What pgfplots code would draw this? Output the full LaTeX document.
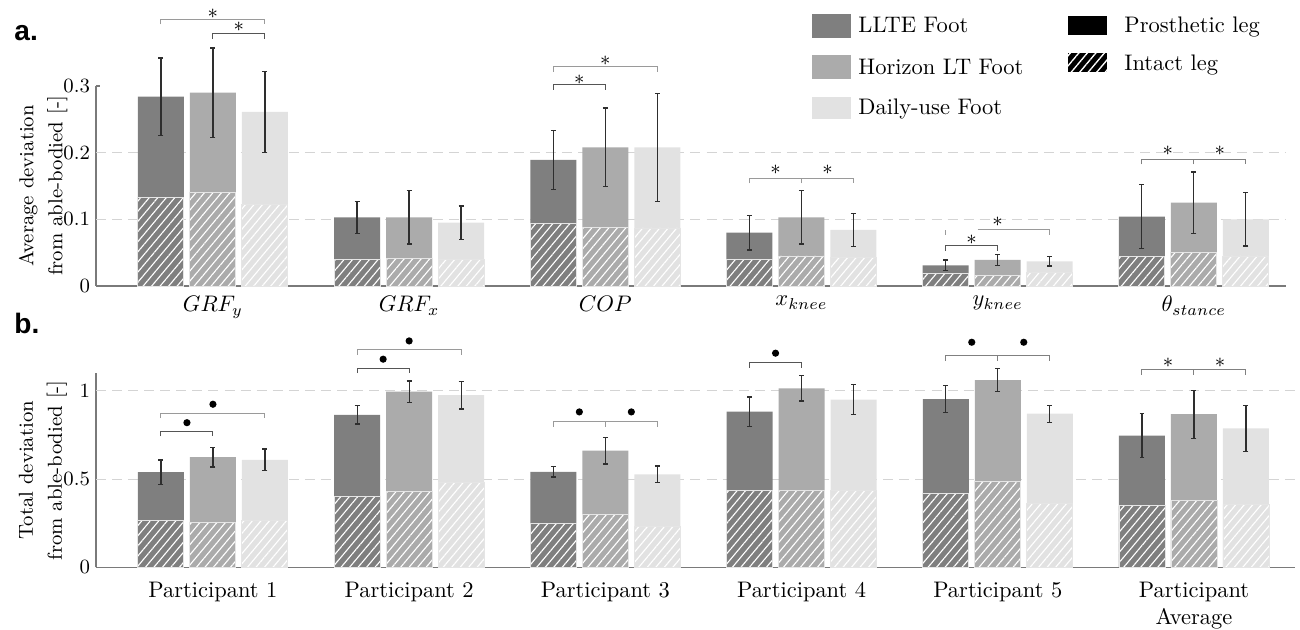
\documentclass[border=0pt]{standalone}
\usepackage{fontspec}
\newfontfamily\panelfont{Liberation Sans}
\usepackage{pgfplots}
\pgfplotsset{compat=1.18}
\usepackage{pgfplotstable}
\usetikzlibrary{patterns.meta}

\definecolor{cA}{HTML}{7F7F7F}
\definecolor{cB}{HTML}{ABABAB}
\definecolor{cC}{HTML}{E2E2E2}
\definecolor{axisc}{HTML}{7A7A7A}
\definecolor{gridc}{HTML}{D4D4D4}
\definecolor{errc}{HTML}{2E2E2E}
\definecolor{brkL}{HTML}{9A9A9A}
\definecolor{brkD}{HTML}{555555}
\definecolor{brkM}{HTML}{808080}

% x, total, intact, error for LLTE (a), Horizon LT (b), Daily-use (c)
\pgfplotstableread{
x a     ai    ae    b     bi    be    c     ci    ce
0 0.284 0.133 0.058 0.290 0.140 0.067 0.261 0.122 0.061
1 0.103 0.040 0.024 0.103 0.041 0.040 0.095 0.040 0.025
2 0.189 0.094 0.044 0.208 0.088 0.059 0.208 0.087 0.081
3 0.080 0.040 0.026 0.103 0.045 0.040 0.084 0.043 0.025
4 0.031 0.019 0.008 0.039 0.016 0.008 0.037 0.020 0.007
5 0.104 0.044 0.048 0.125 0.050 0.046 0.100 0.045 0.040
}\tabA

\pgfplotstableread{
x a     ai    ae    b     bi    be    c     ci    ce
0 0.539 0.264 0.069 0.624 0.255 0.055 0.609 0.266 0.062
1 0.864 0.404 0.052 0.996 0.429 0.060 0.976 0.482 0.078
2 0.541 0.246 0.029 0.661 0.302 0.075 0.527 0.232 0.047
3 0.883 0.434 0.083 1.015 0.434 0.072 0.951 0.434 0.085
4 0.953 0.420 0.077 1.061 0.485 0.065 0.871 0.363 0.048
5 0.746 0.348 0.125 0.868 0.380 0.136 0.788 0.357 0.131
}\tabB

\pgfplotsset{
  bA/.style={ybar, bar width=20.47pt, bar shift=-23.14pt},
  bB/.style={ybar, bar width=20.47pt, bar shift=0pt},
  bC/.style={ybar, bar width=20.47pt, bar shift=23.14pt},
  solid bar/.style={draw=none},
  hatch/.style={draw=white!80!gray, line width=0.4pt,
    postaction={pattern={Lines[angle=50,distance=2.9pt,line width=0.5pt]}, pattern color=white}},
  errs/.style={draw=none, mark=none, forget plot,
    error bars/.cd, y dir=both, y explicit,
    error bar style={draw=errc, line width=0.55pt},
    error mark options={rotate=90, draw=errc, mark size=1.1pt, line width=0.55pt}},
  panel/.style={
    scale only axis, anchor=south west, clip=false,
    axis x line*=bottom, axis y line*=left,
    axis line style={draw=axisc, line width=0.6pt},
    x axis line style={-}, y axis line style={-},
    xtick={0,...,5}, xtick style={draw=none},
    ytick style={draw=axisc, line width=0.5pt}, major tick length=1.8pt,
    yticklabel style={font=\small, inner sep=0pt, anchor=east, xshift=-2.5pt},
    xticklabel style={inner sep=0pt, anchor=north, align=center},
    extra y tick labels={},
    extra y tick style={grid=major, major tick length=0pt,
      major grid style={draw=gridc, line width=0.5pt, dash pattern=on 4.45pt off 2.7pt}},
    ylabel style={align=center, anchor=center, font=\fontsize{9}{12.9}\selectfont},
  },
}

\newcommand\brk[5]{\draw[#1, line width=0.45pt] (axis cs:#2,#5) -- (axis cs:#2,#4) -- (axis cs:#3,#4) -- (axis cs:#3,#5);}
\newcommand\st[2]{\node[font=\small, inner sep=0pt] at (axis cs:#1,#2) {$\ast$};}

\begin{document}
\begin{tikzpicture}
\useasboundingbox (0,0) rectangle (578.5pt,279.905pt);

% ---------- a. ----------
\begin{axis}[panel,
  at={(42.72pt,152.64pt)}, width=529.55pt, height=89pt,
  xmin=-0.596, xmax=5.47, ymin=0, ymax=0.3,
  ytick={0,0.1,0.2,0.3}, extra y ticks={0.1,0.2},
  xticklabels={$GRF_y$,$GRF_x$,$COP$,$x_{knee}$,$y_{knee}$,$\theta_{stance}$},
  xticklabel style={yshift=-4.4pt},
  ylabel={Average deviation\\from able-bodied [-]},
  ylabel style={at={(axis description cs:-0.0445,0.5)}},
]
\addplot[bA, fill=cA, solid bar] table[x=x,y=a]{\tabA};
\addplot[bA, fill=cA, hatch] table[x=x,y=ai]{\tabA};
\addplot[bB, fill=cB, solid bar] table[x=x,y=b]{\tabA};
\addplot[bB, fill=cB, hatch] table[x=x,y=bi]{\tabA};
\addplot[bC, fill=cC, solid bar] table[x=x,y=c]{\tabA};
\addplot[bC, fill=cC, hatch] table[x=x,y=ci]{\tabA};
\addplot[errs] table[x expr=\thisrow{x}-0.265,y=a,y error=ae]{\tabA};
\addplot[errs] table[x=x,y=b,y error=be]{\tabA};
\addplot[errs] table[x expr=\thisrow{x}+0.265,y=c,y error=ce]{\tabA};

\brk{brkL}{-0.265}{0.265}{0.400}{0.3925}
\brk{brkD}{0}{0.265}{0.3785}{0.371}
\st{0}{0.4085}
\st{0.1325}{0.3895}
\brk{brkL}{1.735}{2.265}{0.329}{0.3215}
\brk{brkD}{1.735}{2}{0.3015}{0.294}
\st{2}{0.3375}
\st{1.8675}{0.310}
\brk{brkL}{2.735}{3.265}{0.1615}{0.154}
\draw[brkL, line width=0.45pt] (axis cs:3,0.154) -- (axis cs:3,0.1615);
\st{2.8675}{0.175}
\st{3.1325}{0.175}
\brk{brkD}{3.735}{4}{0.060}{0.0525}
\draw[brkL, line width=0.45pt] (axis cs:3.735,0.0765) -- (axis cs:3.735,0.084);
\draw[brkL, line width=0.45pt] (axis cs:3.898,0.084) -- (axis cs:4.265,0.084) -- (axis cs:4.265,0.0765);
\st{3.8675}{0.070}
\st{4}{0.096}
\brk{brkM}{4.735}{5.265}{0.190}{0.1825}
\draw[brkM, line width=0.45pt] (axis cs:5,0.1825) -- (axis cs:5,0.190);
\st{4.8675}{0.2035}
\st{5.1325}{0.2035}
\end{axis}

% ---------- b. ----------
\begin{axis}[panel,
  at={(42.72pt,27.46pt)}, width=533.56pt, height=86.33pt,
  xmin=-0.596, xmax=5.515, ymin=0, ymax=1.1,
  ytick={0,0.5,1}, extra y ticks={0.5,1},
  xticklabels={Participant 1,Participant 2,Participant 3,Participant 4,Participant 5,Participant\\Average},
  xticklabel style={yshift=-6.4pt},
  ylabel={Total deviation\\from able-bodied [-]},
  ylabel style={at={(axis description cs:-0.0442,0.5)}},
]
\addplot[bA, fill=cA, solid bar] table[x=x,y=a]{\tabB};
\addplot[bA, fill=cA, hatch] table[x=x,y=ai]{\tabB};
\addplot[bB, fill=cB, solid bar] table[x=x,y=b]{\tabB};
\addplot[bB, fill=cB, hatch] table[x=x,y=bi]{\tabB};
\addplot[bC, fill=cC, solid bar] table[x=x,y=c]{\tabB};
\addplot[bC, fill=cC, hatch] table[x=x,y=ci]{\tabB};
\addplot[errs] table[x expr=\thisrow{x}-0.265,y=a,y error=ae]{\tabB};
\addplot[errs] table[x=x,y=b,y error=be]{\tabB};
\addplot[errs] table[x expr=\thisrow{x}+0.265,y=c,y error=ce]{\tabB};

\tikzset{dot/.style={circle, fill=black, inner sep=0pt, minimum size=3.2pt}}
\brk{brkL}{-0.265}{0.265}{0.8735}{0.8455}
\brk{brkD}{-0.265}{0}{0.771}{0.743}
\node[dot] at (axis cs:0,0.9245) {};
\node[dot] at (axis cs:-0.1325,0.820) {};
\brk{brkL}{0.735}{1.265}{1.2325}{1.2045}
\brk{brkD}{0.735}{1}{1.129}{1.101}
\node[dot] at (axis cs:1,1.2835) {};
\node[dot] at (axis cs:0.8675,1.180) {};
\brk{brkL}{1.735}{2.265}{0.824}{0.796}
\draw[brkL, line width=0.45pt] (axis cs:2,0.796) -- (axis cs:2,0.824);
\node[dot] at (axis cs:1.8675,0.881) {};
\node[dot] at (axis cs:2.1325,0.881) {};
\brk{brkD}{2.735}{3}{1.1605}{1.1325}
\node[dot] at (axis cs:2.8675,1.214) {};
\brk{brkM}{3.735}{4.265}{1.1985}{1.1705}
\draw[brkM, line width=0.45pt] (axis cs:4,1.1705) -- (axis cs:4,1.1985);
\node[dot] at (axis cs:3.8675,1.276) {};
\node[dot] at (axis cs:4.1325,1.276) {};
\brk{brkM}{4.735}{5.265}{1.119}{1.091}
\draw[brkM, line width=0.45pt] (axis cs:5,1.091) -- (axis cs:5,1.119);
\st{4.8675}{1.159}
\st{5.1325}{1.159}
\end{axis}

% ---------- legend and panel letters (pixel grid, y down) ----------
\begin{scope}[x=0.445pt, y=-0.445pt, shift={(0pt,279.905pt)}]
\fill[cA] (812,14) rectangle (851,38);
\fill[cB] (812,55) rectangle (851,79);
\fill[cC] (812,97) rectangle (851,119);
\node[anchor=base west, inner sep=0pt] at (858,33) {LLTE Foot};
\node[anchor=base west, inner sep=0pt] at (858,75) {Horizon LT Foot};
\node[anchor=base west, inner sep=0pt] at (858,115) {Daily-use Foot};
\fill[black] (1068,16) rectangle (1107,35);
\fill[black, postaction={pattern={Lines[angle=50,distance=2.9pt,line width=0.6pt]}, pattern color=white}] (1068,53) rectangle (1107,72);
\node[anchor=base west, inner sep=0pt] at (1124,33) {Prosthetic leg};
\node[anchor=base west, inner sep=0pt] at (1124,71) {Intact leg};
\node[anchor=base west, inner sep=0pt, font=\panelfont\bfseries\fontsize{12.5}{14}\selectfont] at (14,41) {a.};
\node[anchor=base west, inner sep=0pt, font=\panelfont\bfseries\fontsize{12.5}{14}\selectfont] at (14,333) {b.};
\end{scope}
\end{tikzpicture}
\end{document}
